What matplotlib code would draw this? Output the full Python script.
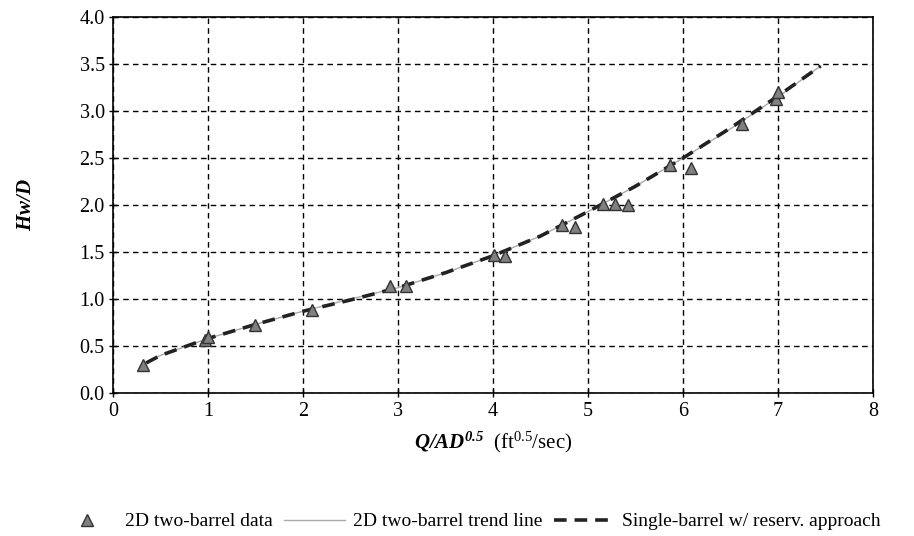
import matplotlib
matplotlib.use('Agg')
import matplotlib.pyplot as plt

# 2D two-barrel data points
data_x = [0.32, 0.97, 1.00, 1.49, 2.10, 2.92, 3.08, 4.01, 4.13, 4.73, 4.86,
          5.16, 5.28, 5.42, 5.86, 6.09, 6.62, 6.98, 7.00]
data_y = [0.30, 0.56, 0.60, 0.72, 0.88, 1.14, 1.14, 1.47, 1.46, 1.79, 1.77,
          2.01, 2.01, 2.00, 2.43, 2.39, 2.86, 3.13, 3.20]

# 2D two-barrel trend line
trend_x = [0.30, 0.5, 1.0, 1.5, 2.0, 2.5, 3.0, 3.5, 4.0, 4.5, 5.0, 5.5, 6.0, 6.5, 7.0, 7.45]
trend_y = [0.30, 0.40, 0.58, 0.73, 0.87, 1.00, 1.12, 1.28, 1.46, 1.67, 1.93, 2.20, 2.50, 2.81, 3.15, 3.48]

# Single-barrel w/ reservoir approach
single_x = [0.35, 0.5, 1.0, 1.5, 2.0, 2.5, 3.0, 3.5, 4.0, 4.5, 5.0, 5.5, 6.0, 6.5, 7.0, 7.45]
single_y = [0.32, 0.40, 0.58, 0.73, 0.87, 0.99, 1.12, 1.28, 1.46, 1.67, 1.93, 2.20, 2.50, 2.82, 3.16, 3.48]

plt.rcParams['font.family'] = 'Liberation Serif'
plt.rcParams['mathtext.fontset'] = 'custom'
plt.rcParams['mathtext.rm'] = 'Liberation Serif'
plt.rcParams['mathtext.it'] = 'Liberation Serif:italic'
plt.rcParams['mathtext.bf'] = 'Liberation Serif:bold:italic'

fig = plt.figure(figsize=(9.14, 5.36), dpi=100)
ax = fig.add_axes([0.1236, 0.2668, 0.8314, 0.7012])

ax.plot(trend_x, trend_y, color='#aaaaaa', lw=1.0, label='2D two-barrel trend line', zorder=2)
ax.plot(single_x, single_y, color='#222222', lw=2.6, ls=(0, (3.5, 2.2)),
        label='Single-barrel w/ reserv. approach', zorder=3)
ax.plot(data_x, data_y, ls='none', marker='^', ms=9, mfc='#808080', mec='#333333',
        mew=1.0, label='2D two-barrel data', zorder=4)

ax.set_xlim(0, 8)
ax.set_ylim(0, 4)
ax.set_xticks(range(0, 9))
ax.set_yticks([i * 0.5 for i in range(9)])
ax.set_yticklabels(['%.1f' % (i * 0.5) for i in range(9)])
ax.grid(True, color='black', ls=(0, (4, 3)), lw=1.0)
ax.tick_params(labelsize=14.5, direction='inout', length=6, width=1)
ax.tick_params(axis='y', pad=3)
for s in ax.spines.values():
    s.set_linewidth(1.2)

ax.set_xlabel(r'$\mathbf{Q/AD^{0.5}}$  (ft$^{0.5}$/sec)', fontsize=15, labelpad=6)
ax.set_ylabel(r'$\mathbf{Hw/D}$', fontsize=15, labelpad=31)

h, l = ax.get_legend_handles_labels()
order = [2, 0, 1]
ax.legend([h[i] for i in order], [l[i] for i in order], ncol=3, frameon=False,
          fontsize=14, loc='center', bbox_to_anchor=(0.468, -0.342),
          handlelength=3.1, columnspacing=0.6, handletextpad=0.4, borderpad=0)

fig.savefig('out.png', dpi=100)
